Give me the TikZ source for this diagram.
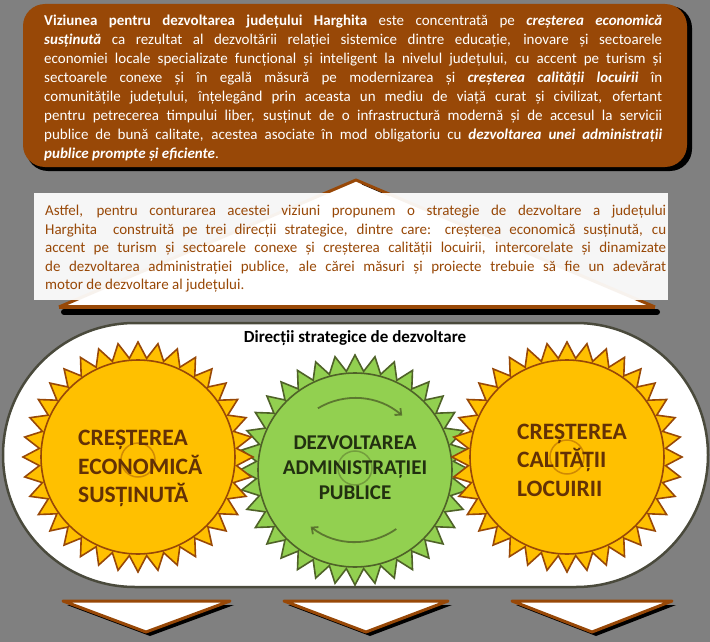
\documentclass[tikz,border=0pt]{standalone}
\usepackage{fontspec}
\setmainfont{Carlito}
\usetikzlibrary{arrows.meta}
\definecolor{bgc}{RGB}{128,128,128}
\definecolor{brownc}{RGB}{152,72,7}
\definecolor{goldc}{RGB}{255,192,0}
\definecolor{greenc}{RGB}{146,208,80}
\definecolor{greend}{RGB}{79,98,40}
\definecolor{suntext}{RGB}{99,49,6}
\definecolor{gtext}{RGB}{34,48,16}
\definecolor{rimc}{RGB}{74,74,60}
\newcommand\bi[1]{\textbf{\textit{#1}}}
\newcommand\jlt[1]{\makebox[618pt][s]{#1}}
\newcommand\jlm[1]{\makebox[621pt][s]{#1}}
\tikzset{
  line/.style={inner sep=0pt, anchor=base west, font=\fontsize{15}{19}\selectfont},
  suntxt/.style={inner sep=0pt, anchor=base west, font=\fontsize{23.5}{28}\selectfont\bfseries, text=suntext},
  gtxt/.style={inner sep=0pt, anchor=base, font=\fontsize{21}{25}\selectfont\bfseries, text=gtext},
  downarrow/.style={fill=white, draw=brownc, line width=3pt, line join=round},
  ring/.style={opacity=0.45, line width=1.5pt},
  turn/.style={draw=greend, opacity=0.8, line width=1.8pt, -{Straight Barb[length=5pt,width=9pt]}}
}
\begin{document}
\begin{tikzpicture}[x=1pt,y=-1pt]
\useasboundingbox (0,0) rectangle (710,642);
\fill[bgc] (0,0) rectangle (710,642);
% top box
\fill[black, rounded corners=22pt] (26,6) rectangle (692,171);
\fill[brownc, rounded corners=22pt] (23,4) rectangle (687,167);
\foreach \txt [count=\i] in {
 {\jlt{\textbf{Viziunea pentru dezvoltarea județului Harghita} este concentrată pe \bi{creșterea economică}}},
 {\jlt{\bi{susținută} ca rezultat al dezvoltării relației sistemice dintre educație, inovare și sectoarele}},
 {\jlt{economiei locale specializate funcțional și inteligent la nivelul județului, cu accent pe turism și}},
 {\jlt{sectoarele conexe și în egală măsură pe modernizarea și \bi{creșterea calității locuirii} în}},
 {\jlt{comunitățile județului, înțelegând prin aceasta un mediu de viață curat și civilizat, ofertant}},
 {\jlt{pentru petrecerea timpului liber, susținut de o infrastructură modernă și de accesul la servicii}},
 {\jlt{publice de bună calitate, acestea asociate în mod obligatoriu cu \bi{dezvoltarea unei administrații}}},
 {\bi{publice prompte și eficiente}.}}
 {\node[line, text=white] (top\i) at (44,{6.5+19*\i}) {\txt};}
% roof arrow + white box
\draw[black, line width=6pt, line cap=round] (64,312) -- (657,312);
\fill[white] (356,180) -- (655,307) -- (59,307) -- cycle;
\draw[black, line width=1pt] (362,184) -- (390,196);
\draw[brownc, line width=3pt, line join=round] (59,307) -- (356,180) -- (655,307);
\draw[brownc, line width=3.5pt] (59,307) -- (655,307);
\fill[white, opacity=0.93] (34,193) rectangle (668,300);
\foreach \txt [count=\i] in {
 {\jlm{Astfel, pentru conturarea acestei viziuni propunem o strategie de dezvoltare a județului}},
 {\jlm{Harghita\ \ construită pe trei direcții strategice, dintre care: creșterea economică susținută, cu}},
 {\jlm{accent pe turism și sectoarele conexe și creșterea calității locuirii, intercorelate și dinamizate}},
 {\jlm{de dezvoltarea administrației publice, ale cărei măsuri și proiecte trebuie să fie un adevărat}},
 {motor de dezvoltare al județului.}}
 {\node[line, text=brownc] (mid\i) at (45,{197+18.5*\i}) {\txt};}
% stadium
\filldraw[fill=white, draw=rimc, line width=2.5pt, rounded corners=132pt] (3,323) rectangle (708,587);
\node[inner sep=0pt, anchor=base, font=\fontsize{17}{20}\selectfont\bfseries] (title) at (355,342) {Direcții strategice de dezvoltare};
% suns
\foreach \cx/\cy/\fc/\dc in {355/470/greenc/greend, 138/457/goldc/brownc, 567/457/goldc/brownc} {
 \begin{scope}[shift={(\cx,\cy)}]
 \filldraw[fill=\fc, draw=\dc, line width=1.6pt, line join=miter] (0:115)
   \foreach \k in {1,...,71}{ -- ({\k*5}:{mod(\k,2)==0 ? 115 : 99}) } -- cycle;
 \draw[draw=\dc, line width=1.6pt] (0,0) circle[radius=97];
 \end{scope}
}
\draw[ring, brownc] (138,460) circle[radius=17];
\draw[ring, greend] (355,468) circle[radius=17];
\draw[ring, brownc] (567,457) circle[radius=17];
\begin{scope}[shift={(355,470)}]
\draw[turn] (-121:72) arc[start angle=-121, end angle=-49, radius=72];
\draw[turn] (55:72) arc[start angle=55, end angle=128, radius=72];
\end{scope}
\node[suntxt] (l1) at (78,445.5) {CREȘTEREA};
\node[suntxt] (l2) at (78,474.5) {ECONOMICĂ};
\node[suntxt] (l3) at (78,502.5) {SUSȚINUTĂ};
\node[gtxt] (m1) at (355,449) {DEZVOLTAREA};
\node[gtxt] (m2) at (355,474) {ADMINISTRAȚIEI};
\node[gtxt] (m3) at (355,499) {PUBLICE};
\node[suntxt] (r1) at (517,439.5) {CREȘTEREA};
\node[suntxt] (r2) at (517,467.5) {CALITĂȚII};
\node[suntxt] (r3) at (517,496.5) {LOCUIRII};
% bottom arrows
\foreach \a/\b/\t in {63/230/146, 284/448/366, 512/672/592} {
 \fill[black] ({\a+4},605) -- ({\b+4},605) -- ({\t+4},636) -- cycle;
 \filldraw[downarrow] (\a,601) -- (\b,601) -- (\t,632) -- cycle;
}
\end{tikzpicture}
\end{document}
